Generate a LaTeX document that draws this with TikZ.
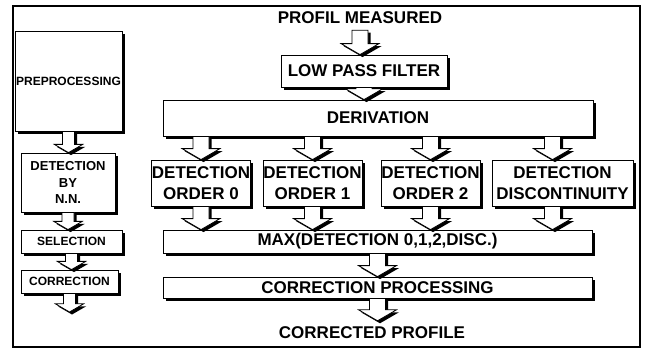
\documentclass[tikz,border=0pt]{standalone}
\usepackage{fontspec}
\setmainfont{Liberation Sans}
\usetikzlibrary{calc,shadows}

% block arrow from a start point down to a tip point, #1 = size factor
\newcommand{\flow}[3][1]{%
  \path[flowarrow] let \p1=#2, \p2=#3 in
    (\x1-8pt*#1,\y1) -- (\x1-8pt*#1,\y2+11pt*#1) -- (\x1-19pt*#1,\y2+11pt*#1)
    -- (\x1,\y2) -- (\x1+19pt*#1,\y2+11pt*#1) -- (\x1+8pt*#1,\y2+11pt*#1)
    -- (\x1+8pt*#1,\y1) -- cycle;}

\begin{document}
\begin{tikzpicture}[x=1pt, y=-1pt,
  shade/.style={drop shadow={shadow xshift=2.5pt, shadow yshift=-2.5pt, opacity=1, fill=black}},
  box/.style={draw, fill=white, line width=0.8pt, inner sep=0pt, align=center, shade,
    font=\bfseries\fontsize{17}{21}\selectfont},
  small/.style={font=\bfseries\fontsize{12}{16.5}\selectfont},
  label/.style={inner sep=0pt, font=\bfseries\fontsize{17}{21}\selectfont},
  flowarrow/.style={draw, fill=white, line width=0.8pt, shade}]
\useasboundingbox (0,0) rectangle (647,351);
\draw[line width=1.3pt] (13,6) rectangle (640,347);

% left panel
\node[box, small, minimum width=107, minimum height=100] (pre) at (68.5,81) {PREPROCESSING};
\node[box, small, minimum width=94, minimum height=59,
  font=\bfseries\fontsize{13}{16.5}\selectfont] (nn) at (68,182.5) {DETECTION\\BY\\N.N.};
\node[box, small, minimum width=101, minimum height=23] (sel) at (71.5,241.5) {SELECTION};
\node[box, small, minimum width=97, minimum height=23] (cor) at (69.5,281.5) {CORRECTION};
\coordinate (lout) at (69.5,312);

% main chain
\node[label] (top) at (360,18) {PROFIL MEASURED};
\node[box, minimum width=166, minimum height=32] (lpf) at (364,71) {LOW PASS FILTER};
\node[box, minimum width=430, minimum height=36] (deriv) at (378,118) {DERIVATION};
\node[box, minimum width=98, minimum height=46] (det0) at (201,183) {DETECTION\\ORDER 0};
\node[box, minimum width=99, minimum height=46] (det1) at (312.5,183) {DETECTION\\ORDER 1};
\node[box, minimum width=99, minimum height=46] (det2) at (430.5,183) {DETECTION\\ORDER 2};
\node[box, minimum width=141, minimum height=46] (disc) at (562.5,183) {DETECTION\\DISCONTINUITY};
\node[box, minimum width=429, minimum height=23] (max) at (377.5,241.5) {MAX(DETECTION 0,1,2,DISC.)};
\node[box, minimum width=429, minimum height=21] (cp) at (377.5,287.5) {CORRECTION PROCESSING};
\node[label] (out) at (372,333) {CORRECTED PROFILE};

% arrows left
\flow[0.75]{(pre.south)}{(nn.north)}
\flow[0.75]{(nn.south)}{(sel.north)}
\flow[0.75]{(sel.south)}{(cor.north)}
\flow[0.75]{(cor.south)}{(lout)}

% arrows right
\flow{([yshift=-6pt]top.south)}{(lpf.north)}
\flow{(lpf.south)}{(deriv.north)}
\flow{(det0.north |- deriv.south)}{(det0.north)}
\flow{(det1.north |- deriv.south)}{(det1.north)}
\flow{(det2.north |- deriv.south)}{(det2.north)}
\flow{([xshift=-10pt]disc.north |- deriv.south)}{(disc.north)}
\flow{(det0.south)}{(max.north)}
\flow{(det1.south)}{(max.north)}
\flow{(det2.south)}{(max.north)}
\flow{([xshift=-10pt]disc.south)}{(max.north)}
\flow{(max.south)}{(cp.north)}
\flow{(cp.south)}{([yshift=6pt]out.north)}
\end{tikzpicture}
\end{document}
